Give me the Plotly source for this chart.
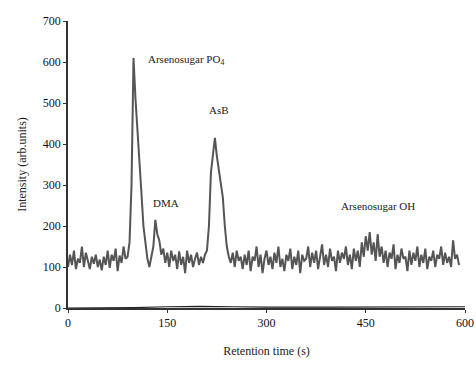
import plotly.graph_objects as go

# Retention time (s), sampled every 3 s
time_s = list(range(0, 594, 3))

intensity = [
    100, 130, 105, 140, 95, 120, 110, 150, 100, 135,
    115, 95, 125, 108, 130, 100, 118, 92, 125, 105,
    140, 98, 130, 115, 145, 90, 128, 110, 150, 120,
    125, 160, 300, 610, 510, 440, 370, 280, 200, 160,
    120, 100, 125, 150, 215, 180, 165, 130, 145, 110,
    135, 100, 140, 115, 130, 95, 138, 105, 125, 85,
    140, 110, 130, 100, 120, 135, 105, 125, 110, 130,
    140, 200, 330, 380, 415, 370, 340, 300, 270, 200,
    150, 125, 110, 135, 100, 140, 115, 125, 95, 130,
    105, 140, 90, 125, 115, 150, 100, 130, 85, 120,
    140, 105, 125, 95, 135, 110, 150, 100, 120, 90,
    130, 115, 145, 95, 125, 105, 140, 85, 130, 115,
    120, 150, 100, 135, 110, 140, 95, 125, 155, 105,
    130, 100, 145, 115, 125, 90, 140, 110, 135, 120,
    150, 105, 130, 95, 145, 115, 140, 100, 160, 125,
    175, 140, 185, 130, 160, 115, 180, 125, 150, 110,
    140, 100, 135, 120, 155, 95, 130, 110, 145, 120,
    125, 90, 140, 105, 135, 115, 150, 100, 130, 110,
    145, 95, 125, 115, 140, 100, 130, 120, 150, 105,
    135, 110, 125, 100, 165, 120, 130, 105,
]

# faint near-zero baseline trace
base_time = [0, 60, 100, 150, 200, 250, 300, 400, 500, 600]
base_vals = [0, 0, 1, 3, 4, 3, 2, 2, 2, 3]

peak_labels = ["Arsenosugar PO<sub>4</sub>", "DMA", "AsB", "Arsenosugar OH"]
label_x = [178, 148, 228, 468]
label_y = [605, 256, 483, 249]

x_ticks = [0, 150, 300, 450, 600]
y_ticks = [0, 100, 200, 300, 400, 500, 600, 700]

font_family = "Liberation Serif, Times New Roman, serif"

fig = go.Figure()
fig.add_trace(go.Scatter(x=base_time, y=base_vals, mode="lines",
                         line=dict(color="#222222", width=1.2), hoverinfo="skip"))
fig.add_trace(go.Scatter(x=time_s, y=intensity, mode="lines",
                         line=dict(color="#555555", width=2)))

for txt, lx, ly in zip(peak_labels, label_x, label_y):
    fig.add_annotation(x=lx, y=ly, text=txt, showarrow=False,
                       font=dict(family=font_family, size=11, color="#222222"))

fig.update_layout(
    width=476, height=365,
    margin=dict(l=68, r=11, t=21, b=57),
    paper_bgcolor="white", plot_bgcolor="white",
    showlegend=False,
    font=dict(family=font_family, size=12, color="#222222"),
)
fig.update_xaxes(range=[0, 600], tickvals=x_ticks, showgrid=False, zeroline=False,
                 automargin=False,
                 showline=True, linecolor="#333333", linewidth=1.5,
                 ticks="outside", ticklen=3, tickcolor="#333333",
                 tickfont=dict(size=12, color="#111111"),
                 title=dict(text="Retention time (s)", font=dict(size=12), standoff=17))
fig.update_yaxes(range=[0, 700], tickvals=y_ticks, showgrid=False, zeroline=False,
                 automargin=False,
                 showline=True, linecolor="#333333", linewidth=1.5,
                 ticks="outside", ticklen=3, tickcolor="#333333",
                 tickfont=dict(size=12, color="#111111"),
                 title=dict(text="Intensity (arb.units)", font=dict(size=12), standoff=14))

fig.write_html("out.html", config={"displayModeBar": False},
               post_script="document.body.style.margin='0';document.body.style.padding='0';")
